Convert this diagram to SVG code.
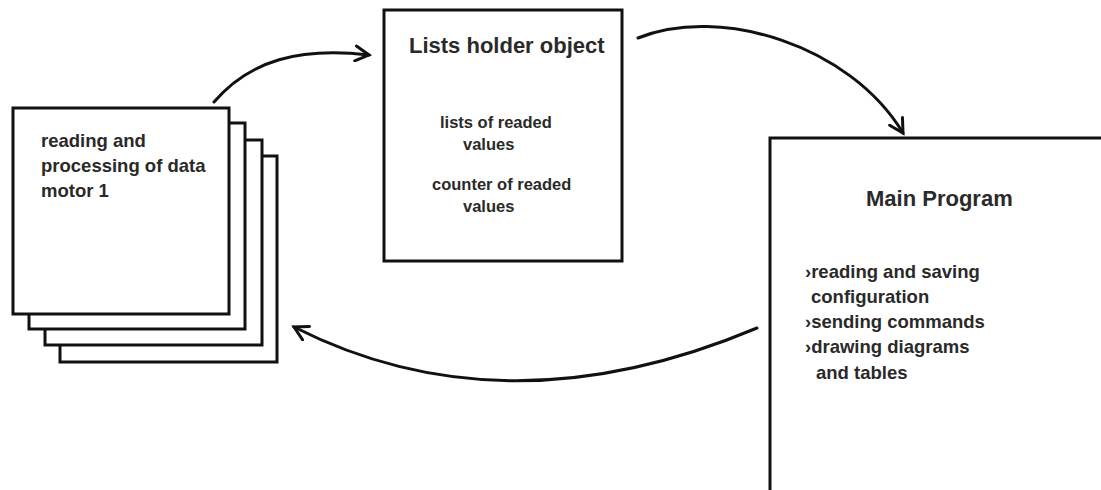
<svg xmlns="http://www.w3.org/2000/svg" width="1101" height="490" viewBox="0 0 1101 490">
<style>
.box{fill:#fff;stroke:#111;stroke-width:3}
.t{font-family:"Liberation Sans",Arial,sans-serif;font-weight:bold;fill:#2a2a2a}
.title{font-size:22px}
.body{font-size:18.5px}
.small{font-size:16.5px}
.conn{fill:none;stroke:#111;stroke-width:3;stroke-linecap:round}
</style>
<defs>
<marker id="arr" viewBox="0 0 12 12" refX="10" refY="6" markerWidth="6" markerHeight="6" markerUnits="strokeWidth" orient="auto">
<path d="M1,1 L10,6 L1,11" fill="none" stroke="#111" stroke-width="2" stroke-linecap="round" stroke-linejoin="miter"/>
</marker>
</defs>
<rect width="1101" height="490" fill="#fff"/>
<g id="motor-stack">
<rect class="box" x="60" y="156" width="217" height="206"/>
<rect class="box" x="45" y="140" width="217" height="205"/>
<rect class="box" x="29" y="123" width="216" height="206"/>
<rect class="box" x="13" y="108" width="216" height="206"/>
<text class="t body" x="41" y="147">reading and</text>
<text class="t body" x="41" y="172">processing of data</text>
<text class="t body" x="41" y="197">motor 1</text>
</g>
<g id="lists-holder">
<rect class="box" x="384" y="10" width="238" height="251"/>
<text class="t title" x="409" y="53">Lists holder object</text>
<text class="t small" x="440" y="128">lists of readed</text>
<text class="t small" x="463" y="150">values</text>
<text class="t small" x="432" y="190">counter of readed</text>
<text class="t small" x="463" y="212">values</text>
</g>
<g id="main-program">
<rect class="box" x="770" y="138" width="345" height="370"/>
<text class="t title" x="866" y="206">Main Program</text>
<text class="t body" x="805" y="278">›reading and saving</text>
<text class="t body" x="811" y="303">configuration</text>
<text class="t body" x="805" y="328">›sending commands</text>
<text class="t body" x="805" y="353">›drawing diagrams</text>
<text class="t body" x="816" y="379">and tables</text>
</g>
<g id="connectors">
<path class="conn" d="M214,102 C250,60 300,47 369,55" marker-end="url(#arr)"/>
<path class="conn" d="M638,38 C720,5 850,45 903,133" marker-end="url(#arr)"/>
<path class="conn" d="M757,328 Q505,434 294,327" marker-end="url(#arr)"/>
</g>
</svg>
